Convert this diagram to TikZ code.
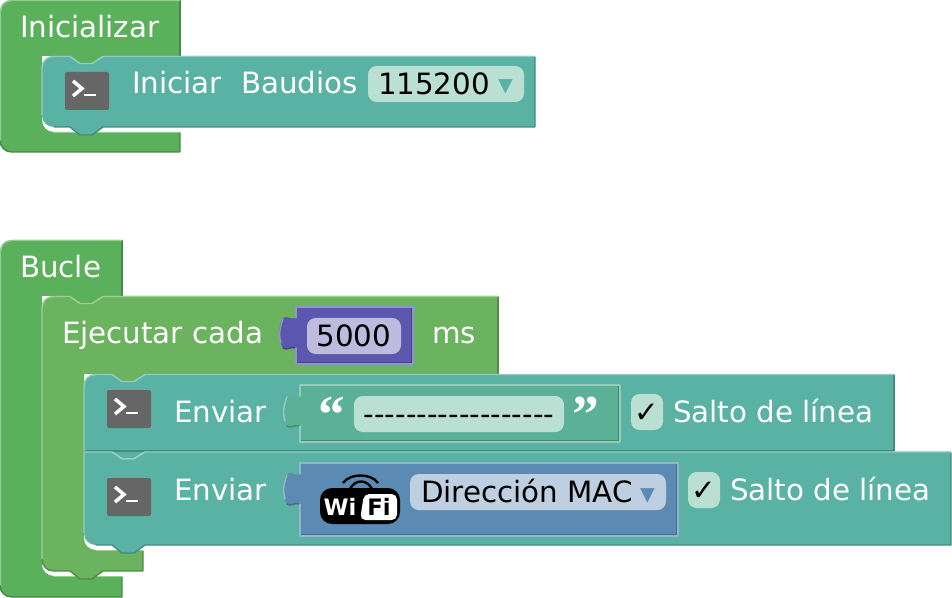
\documentclass[tikz,border=0pt]{standalone}
\usepackage{fontspec}
\setmainfont{DejaVu Sans}
\newfontfamily\quotefont{Liberation Serif}[BoldFont={Liberation Serif Bold}]
\definecolor{gA}{HTML}{5BB05B}
\definecolor{gB}{HTML}{6BB35E}
\definecolor{tl}{HTML}{5AB2A4}
\definecolor{pu}{HTML}{5B57AE}
\definecolor{tx}{HTML}{5AB195}
\definecolor{wf}{HTML}{5B8BB3}
\definecolor{fT}{HTML}{BAE0D3}
\definecolor{fP}{HTML}{BDBCDF}
\definecolor{fB}{HTML}{BDCFE0}
\definecolor{ic}{HTML}{666666}
\tikzset{
  x=0.75pt,y=-0.75pt,
  blk/.style={fill=#1},
  drk/.style={draw=#1!78!black,line width=1.1pt,line join=round,line cap=round},
  hi/.style={draw=#1!65!white,line width=1.1pt,line cap=round,line join=round},
  lbl/.style={anchor=base west,inner sep=0pt,outer sep=0pt,text=white,font=\fontsize{22}{26}\selectfont},
  val/.style={anchor=base,inner sep=0pt,outer sep=0pt,text=black,font=\fontsize{22}{26}\selectfont},
  fld/.style={fill=#1,rounded corners=6.5pt},
  icbox/.style={fill=ic,rounded corners=1.5pt},
  qt/.style={anchor=base,inner sep=0pt,outer sep=0pt,text=white,font=\quotefont\bfseries\fontsize{40}{40}\selectfont},
  wifit/.style={anchor=base,inner sep=0pt,outer sep=0pt,font=\bfseries\fontsize{17}{17}\selectfont},
}
% value block: x1,y1,x2,y2,colour
\newcommand{\valblock}[5]{%
  \path[blk=#5] (#1,#2+11) -- (#1,#2) -- (#3,#2) -- (#3,#4) -- (#1,#4) -- (#1,#2+41)
    .. controls (#1-6,#2+39) and (#1-9,#2+44) .. (#1-13,#2+41)
    .. controls (#1-18,#2+33) and (#1-18,#2+19) .. (#1-13,#2+11)
    .. controls (#1-9,#2+8) and (#1-6,#2+13) .. (#1,#2+11) -- cycle;
  \draw[drk=#5] (#1,#2+41) .. controls (#1-6,#2+39) and (#1-9,#2+44) .. (#1-13,#2+41);
  \draw[drk=#5] (#1+1,#4-1) -- (#3-1,#4-1) -- (#3-1,#2+1);
  \draw[hi=#5] (#1,#4) -- (#3,#4) -- (#3,#2) -- (#1,#2) -- (#1,#2+11);
  \draw[hi=#5] (#1,#4) -- (#1,#2+41);
  \draw[hi=#5] (#1-15,#2+36) .. controls (#1-17,#2+30) and (#1-17,#2+22) .. (#1-13,#2+12);
}
% terminal icon at top-left x,y
\newcommand{\termicon}[2]{%
  \fill[icbox] (#1,#2) rectangle (#1+44,#2+38);
  \draw[white,line width=2.6pt] (#1+8,#2+9) -- (#1+17,#2+16.5) -- (#1+8,#2+24);
  \draw[white,line width=1.9pt] (#1+19,#2+23) -- (#1+31,#2+23);
}
\begin{document}
\begin{tikzpicture}
\useasboundingbox (0,0) rectangle (952,598);
% ---------- Inicializar
\path[blk=gA] (12,0) -- (180,0) -- (180,56) -- (103,56) -- (92,63) -- (80,63) -- (70,56) -- (42,56) -- (42,120) .. controls (42,127) and (47,132) .. (54,132) -- (180,132) -- (180,152) -- (12,152) .. controls (5,152) and (0,147) .. (0,140) -- (0,12) .. controls (0,5) and (5,0) .. (12,0) -- cycle;
\draw[drk=gA] (180,0.5) -- (180,56);
\draw[drk=gA] (180,133) -- (180,152) -- (12,152) .. controls (5,152) and (0,147) .. (0,140);
\draw[hi=gA] (0.5,140) -- (0.5,12) .. controls (0.5,5) and (5,0.5) .. (12,0.5) -- (179.5,0.5);
\draw[hi=gA] (54,132.5) -- (179.5,132.5);
% Iniciar
\path[blk=tl] (54,56) -- (70,56) -- (80,63) -- (92,63) -- (103,56) -- (535,56) -- (535,127) -- (103,127) -- (92,135) -- (80,135) -- (70,127) -- (54,127) .. controls (47,127) and (42,122) .. (42,115) -- (42,68) .. controls (42,61) and (47,56) .. (54,56) -- cycle;
\draw[drk=tl] (535,57) -- (535,127) -- (103,127) -- (92,135) -- (80,135) -- (70,127) -- (54,127);
\draw[hi=tl] (42,115) -- (42,68) .. controls (42,61) and (47,56.5) .. (54,56.5) -- (70,56.5) -- (80,63.5) -- (92,63.5) -- (103,56.5) -- (534.5,56.5);
\termicon{65}{72}
\node[lbl] (init) at (20,38) {Inicializar};
\node[lbl] (iniciar) at (132,94) {Iniciar};
\node[lbl] (baud) at (241,94) {Baudios};
\fill[fld=fT] (368,66) rectangle (524,102);
\node[val,anchor=base west] (b115) at (378,95) {115200};
\node[val,text=tl,anchor=base] (arr1) at (506,95) {▾};
% ---------- Bucle
\path[blk=gA] (12,240) -- (122,240) -- (122,296) -- (103,296) -- (92,303) -- (80,303) -- (70,296) -- (42,296) -- (42,564) .. controls (42,571) and (47,576) .. (54,576) -- (122,576) -- (122,597) -- (12,597) .. controls (5,597) and (0,592) .. (0,585) -- (0,252) .. controls (0,245) and (5,240) .. (12,240) -- cycle;
\draw[drk=gA] (122,240.5) -- (122,296);
\draw[drk=gA] (122,577) -- (122,597) -- (12,597) .. controls (5,597) and (0,592) .. (0,585);
\draw[hi=gA] (0.5,585) -- (0.5,252) .. controls (0.5,245) and (5,240.5) .. (12,240.5) -- (121.5,240.5);
\draw[hi=gA] (54,576.5) -- (121.5,576.5);
% Ejecutar cada
\path[blk=gB] (54,296) -- (70,296) -- (80,303) -- (92,303) -- (103,296) -- (498,296) -- (498,374) -- (145,374) -- (134,381) -- (122,381) -- (112,374) -- (84,374) -- (84,538) .. controls (84,545) and (89,550) .. (96,550) -- (143,550) -- (143,571) -- (103,571) -- (92,579) -- (80,579) -- (70,571) -- (54,571) .. controls (47,571) and (42,566) .. (42,559) -- (42,308) .. controls (42,301) and (47,296) .. (54,296) -- cycle;
\draw[drk=gB] (498,297) -- (498,374);
\draw[drk=gB] (143,551) -- (143,571) -- (103,571) -- (92,579) -- (80,579) -- (70,571) -- (54,571) .. controls (47,571) and (42,566) .. (42,559);
\draw[hi=gB] (42,559) -- (42,308) .. controls (42,301) and (47,296.5) .. (54,296.5) -- (70,296.5) -- (80,303.5) -- (92,303.5) -- (103,296.5) -- (497.5,296.5);
\draw[hi=gB] (96,550.5) -- (142.5,550.5);
% Enviar 1
\path[blk=tl] (96,374) -- (112,374) -- (122,381) -- (134,381) -- (145,374) -- (894,374) -- (894,451) -- (145,451) -- (134,458) -- (122,458) -- (112,451) -- (84,451) -- (84,386) .. controls (84,379) and (89,374) .. (96,374) -- cycle;
\draw[drk=tl] (894,375) -- (894,451) -- (84,451);
\draw[hi=tl] (84,451) -- (84,386) .. controls (84,379) and (89,374.5) .. (96,374.5) -- (112,374.5) -- (122,381.5) -- (134,381.5) -- (145,374.5) -- (893.5,374.5);
% Enviar 2
\path[blk=tl] (84,451.5) -- (112,451.5) -- (122,458.5) -- (134,458.5) -- (145,451.5) -- (951,451.5) -- (951,545) -- (145,545) -- (134,553) -- (122,553) -- (112,545) -- (96,545) .. controls (89,545) and (84,540) .. (84,533) -- cycle;
\draw[drk=tl] (951,453) -- (951,545) -- (145,545) -- (134,553) -- (122,553) -- (112,545) -- (96,545);
\draw[hi=tl] (84,533) -- (84,452) -- (112,452) -- (122,459) -- (134,459) -- (145,452) -- (950.5,452);
\termicon{107}{390}
\termicon{107}{478}
% labels
\node[lbl] (bucle) at (20,278) {Bucle};
\node[lbl] (ejec) at (62,344) {Ejecutar cada};
\node[lbl] (ms) at (432,344) {ms};
\node[lbl] (env1) at (174,422) {Enviar};
\node[lbl] (env2) at (174,500) {Enviar};
% 5000
\valblock{296}{307}{413}{364}{pu}
\fill[fld=fP] (307,318) rectangle (401,354);
\node[val] (ms5000) at (354,346) {5000};
% text block
\valblock{300}{385}{620}{442}{tx}
\node[qt] (qo) at (332,432) {“};
\node[qt] (qc) at (586,432) {”};
\fill[fld=fT] (354,396) rectangle (564,432);
\node[val] (dash) at (459,424) {-{}-{}-{}-{}-{}-{}-{}-{}-{}-{}-{}-{}-{}-{}-{}-{}-{}-};
\fill[fld=fT] (631,394) rectangle (663,430);
\node[val] (chk1) at (647,422) {✓};
\node[lbl] (salto1) at (673,422) {Salto de línea};
% wifi block
\valblock{300}{463}{678}{536}{wf}
\draw[black,line width=1.8pt] (343,483) .. controls (350,473) and (371,473) .. (378,483);
\draw[black,line width=1.8pt] (350,489) .. controls (355,479) and (367,479) .. (372,489);
\fill[black,rounded corners=9pt] (320,488) rectangle (400,524);
\fill[white,rounded corners=4pt] (364,494) -- (397,494) -- (397,520) -- (360,520) -- cycle;
\node[wifit,text=white] (wi) at (340,515) {Wi};
\node[wifit,text=black] (fi) at (379,515) {Fi};
\fill[fld=fB] (410,474) rectangle (666,510);
\node[val,anchor=base west] (mac) at (421,502) {Dirección MAC};
\node[val,text=wf,anchor=base] (arr2) at (648,503) {▾};
\fill[fld=fT] (688,472) rectangle (720,508);
\node[val] (chk2) at (704,500) {✓};
\node[lbl] (salto2) at (730,500) {Salto de línea};
\end{tikzpicture}
\end{document}
